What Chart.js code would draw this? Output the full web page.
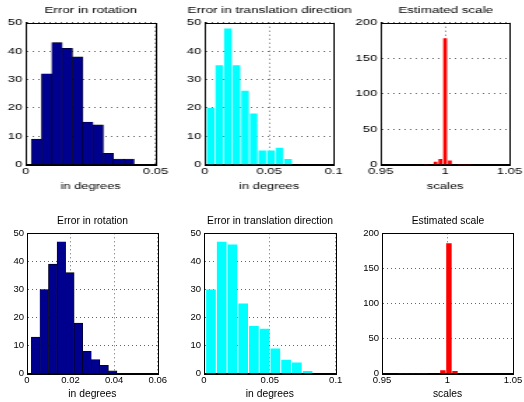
<!DOCTYPE html>
<html><head><meta charset="utf-8">
<script src="https://cdn.jsdelivr.net/npm/chart.js@4"></script>
<style>
html,body{margin:0;padding:0;background:#fff;width:524px;height:402px;overflow:hidden;position:relative}
.p{position:absolute;transform-origin:0 0}
.p canvas{display:block}
</style></head><body>
<script>
// ---------- data ----------
// Row 1
const rot1Centers = [0.00418, 0.00813, 0.01208, 0.01603, 0.01998, 0.02393, 0.02788, 0.03183, 0.03578, 0.03973, 0.04368, 0.04763];
const rot1Counts  = [9, 32, 43, 41, 38, 15, 14, 4, 2, 2, 0, 0];
const trans1Centers = [0.0047, 0.01137, 0.01803, 0.0247, 0.03137, 0.03803, 0.0447, 0.05137, 0.05803, 0.0647, 0.07137, 0.07803, 0.0847, 0.09137, 0.09803];
const trans1Counts  = [20, 35, 48, 35, 26, 18, 5, 5, 6, 2, 0, 0, 0, 0, 0];
const scale1Centers = [0.9852, 0.9889, 0.9926, 0.9963, 1.0000, 1.0037, 1.0074, 1.0111, 1.0148, 1.0185];
const scale1Counts  = [1, 0, 4, 8, 178, 6, 0, 1, 1, 1];
// Row 2
const rot2Centers = [0.00397, 0.0079, 0.01183, 0.01576, 0.01969, 0.02362, 0.02755, 0.03148, 0.03541, 0.03934, 0.04327, 0.0472, 0.05113, 0.05506, 0.05899];
const rot2Counts  = [13, 30, 39, 47, 36, 18, 8, 5, 3, 1, 0, 0, 0, 0, 0];
const trans2Centers = [0.0053, 0.01345, 0.0216, 0.02975, 0.0379, 0.04605, 0.0542, 0.06235, 0.0705, 0.07865, 0.0868, 0.09495];
const trans2Counts  = [30, 47, 46, 25, 17, 16, 9, 5, 4, 1, 0, 0];
const scale2Centers = [0.9597, 0.9643, 0.9689, 0.9735, 0.9781, 0.9827, 0.9873, 0.9919, 0.9965, 1.0011, 1.0057];
const scale2Counts  = [0, 1, 1, 1, 1, 1, 0, 0, 5, 186, 4];

// tick values and labels
const rot1XTicks = [0, 0.05];            const rot1XLabels = ['0', '0.05'];
const trans1XTicks = [0, 0.05, 0.1];     const trans1XLabels = ['0', '0.05', '0.1'];
const scaleXTicks = [0.95, 1, 1.05];     const scaleXLabels = ['0.95', '1', '1.05'];
const rot2XTicks = [0, 0.02, 0.04, 0.06]; const rot2XLabels = ['0', '0.02', '0.04', '0.06'];
const trans2XTicks = [0, 0.05, 0.1];     const trans2XLabels = ['0', '0.05', '0.1'];
const count50Ticks = [0, 10, 20, 30, 40, 50];   const count50Labels = ['0', '10', '20', '30', '40', '50'];
const count200Ticks = [0, 50, 100, 150, 200];   const count200Labels = ['0', '50', '100', '150', '200'];

const titleRot = 'Error in rotation';
const titleTrans = 'Error in translation direction';
const titleScale = 'Estimated scale';
const xlabDeg = 'in degrees';
const xlabScale = 'scales';

// ---------- styles ----------
const NAVY = '#00008F', CYAN = '#00FFFF', RED = '#FF0000';
const GRID = 'rgba(0,0,0,0.6)';
Chart.defaults.font.family = "'Liberation Sans', Arial, Helvetica, sans-serif";
Chart.defaults.color = '#000';

const top1 = {sx: 1.4, yw: 19, top: 0, bottom: 192, plotT: 22.7, plotB: 164.7, titleC: 10.8, fTick: 9.3, fTitle: 9.6, fX: 9.2, tickPadY: 2.4, tickPadX: 1};
const bot1 = {sx: 1, yw: 24, top: 205, bottom: 400, plotT: 233.3, plotB: 373.7, titleC: 221.6, fTick: 9.5, fTitle: 10.3, fX: 10.3, tickPadY: 3, tickPadX: 1};

const panels = [
  Object.assign({}, top1, {plotL: 26, plotR: 156, title: titleRot, xlabel: xlabDeg, centers: rot1Centers, counts: rot1Counts,
    color: NAVY, edge: '#000', edgeW: 0.5, barPct: 1, xMin: 0, xMax: 0.05, xTicks: rot1XTicks, xLabels: rot1XLabels,
    yMax: 50, yTicks: count50Ticks, yLabels: count50Labels}),
  Object.assign({}, top1, {plotL: 204.3, plotR: 333.3, title: titleTrans, xlabel: xlabDeg, centers: trans1Centers, counts: trans1Counts,
    color: CYAN, edge: CYAN, edgeW: 0, barPct: 0.88, xMin: 0, xMax: 0.1, xTicks: trans1XTicks, xLabels: trans1XLabels,
    yMax: 50, yTicks: count50Ticks, yLabels: count50Labels}),
  Object.assign({}, top1, {plotL: 381, plotR: 510, title: titleScale, xlabel: xlabScale, centers: scale1Centers, counts: scale1Counts,
    color: RED, edge: RED, edgeW: 0, barPct: 0.8, xMin: 0.95, xMax: 1.05, xTicks: scaleXTicks, xLabels: scaleXLabels,
    yMax: 200, yTicks: count200Ticks, yLabels: count200Labels}),
  Object.assign({}, bot1, {plotL: 27.3, plotR: 158, title: titleRot, xlabel: xlabDeg, centers: rot2Centers, counts: rot2Counts,
    color: NAVY, edge: '#000', edgeW: 0.6, barPct: 1, xMin: 0, xMax: 0.06, xTicks: rot2XTicks, xLabels: rot2XLabels,
    yMax: 50, yTicks: count50Ticks, yLabels: count50Labels}),
  Object.assign({}, bot1, {plotL: 204, plotR: 335.7, title: titleTrans, xlabel: xlabDeg, centers: trans2Centers, counts: trans2Counts,
    color: CYAN, edge: CYAN, edgeW: 0, barPct: 0.9, xMin: 0, xMax: 0.1, xTicks: trans2XTicks, xLabels: trans2XLabels,
    yMax: 50, yTicks: count50Ticks, yLabels: count50Labels}),
  Object.assign({}, bot1, {plotL: 381.7, plotR: 512.7, title: titleScale, xlabel: xlabScale, centers: scale2Centers, counts: scale2Counts,
    color: RED, edge: RED, edgeW: 0, barPct: 0.9, xMin: 0.95, xMax: 1.05, xTicks: scaleXTicks, xLabels: scaleXLabels,
    yMax: 200, yTicks: count200Ticks, yLabels: count200Labels})
];

const framePlugin = {
  id: 'frame',
  afterDatasetsDraw(chart) {
    const a = chart.chartArea, ctx = chart.ctx;
    ctx.save();
    ctx.strokeStyle = '#000';
    ctx.lineWidth = 1;
    ctx.strokeRect(Math.round(a.left) + 0.5, Math.round(a.top) + 0.5, Math.round(a.right) - Math.round(a.left), Math.round(a.bottom) - Math.round(a.top));
    ctx.restore();
  }
};

panels.forEach(p => {
  const pw = (p.plotR - p.plotL) / p.sx;
  const W = Math.ceil(2 * p.yw + pw);
  const rw = W - p.yw - pw;
  const H = p.bottom - p.top;
  const div = document.createElement('div');
  div.className = 'p';
  div.style.left = (p.plotL - p.yw * p.sx) + 'px';
  div.style.top = p.top + 'px';
  div.style.transform = 'scaleX(' + p.sx + ')';
  const cv = document.createElement('canvas');
  cv.width = W; cv.height = H;
  cv.style.width = W + 'px'; cv.style.height = H + 'px';
  div.appendChild(cv);
  document.body.appendChild(div);
  const lhT = p.fTitle * 1.2;
  const padTop = p.titleC - p.top - lhT / 2;
  const padBot = p.plotT - p.top - padTop - lhT;
  const hx = p.bottom - p.plotB;
  new Chart(cv, {
    type: 'bar',
    data: {datasets: [{
      data: p.centers.map((x, i) => ({x: x, y: p.counts[i]})),
      backgroundColor: p.color, borderColor: p.edge, borderWidth: p.edgeW,
      barPercentage: p.barPct, categoryPercentage: 1, borderSkipped: 'start'
    }]},
    options: {
      responsive: false, animation: false, devicePixelRatio: 1,
      layout: {padding: 0, autoPadding: false},
      plugins: {
        legend: {display: false}, tooltip: {enabled: false},
        title: {display: true, text: p.title, color: '#000', font: {size: p.fTitle, weight: 'normal'}, padding: {top: padTop, bottom: padBot}}
      },
      scales: {
        x: {
          type: 'linear', min: p.xMin, max: p.xMax, offset: false,
          afterBuildTicks: s => { s.ticks = p.xTicks.map(v => ({value: v})); },
          afterFit: s => { s.height = hx; },
          ticks: {callback: (v, i) => p.xLabels[i], padding: p.tickPadX, autoSkip: false, maxRotation: 0, minRotation: 0, color: '#000', font: {size: p.fTick}},
          grid: {offset: false, drawTicks: false, color: GRID, lineWidth: 1},
          border: {display: true, color: '#000', width: 1, dash: [1, 3]},
          title: {display: true, text: p.xlabel, color: '#000', font: {size: p.fX}, padding: 0}
        },
        y: {
          type: 'linear', min: 0, max: p.yMax,
          afterBuildTicks: s => { s.ticks = p.yTicks.map(v => ({value: v})); },
          afterFit: s => { s.width = p.yw; },
          ticks: {callback: (v, i) => p.yLabels[i], padding: p.tickPadY, autoSkip: false, color: '#000', font: {size: p.fTick}},
          grid: {drawTicks: false, color: GRID, lineWidth: 1},
          border: {display: true, color: '#000', width: 1, dash: [1, 3]}
        },
        y2: {
          axis: 'y', type: 'linear', position: 'right', min: 0, max: 1, display: true,
          grid: {display: false, drawTicks: false}, ticks: {display: false}, border: {display: false},
          afterFit: s => { s.width = rw; }
        }
      }
    },
    plugins: [framePlugin]
  });
});
</script>
</body></html>
